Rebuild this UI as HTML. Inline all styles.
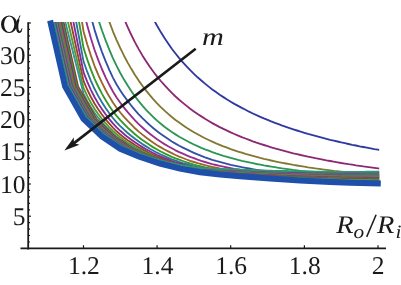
<!DOCTYPE html><html><head><meta charset="utf-8"><style>html,body{margin:0;padding:0;background:#fff}svg{display:block}text{text-rendering:geometricPrecision}text{font-family:"Liberation Serif",serif;fill:#1a1a1a}</style></head><body>
<svg width="401" height="285" viewBox="0 0 401 285" style="will-change:transform">
<rect width="401" height="285" fill="#fff"/>
<defs><clipPath id="c"><rect x="30" y="21.9" width="349.2" height="230"/></clipPath></defs>
<g clip-path="url(#c)" fill="none" stroke-width="1.85" stroke-linejoin="round">
<polyline points="109.3,-136.2 112.9,-114.0 116.6,-94.5 120.3,-77.3 124.0,-61.9 127.7,-48.2 131.4,-35.7 135.0,-24.5 138.7,-14.2 142.4,-4.9 146.1,3.7 149.8,11.7 153.4,19.0 157.1,25.8 160.8,32.1 164.5,38.0 168.2,43.5 171.8,48.7 175.5,53.5 179.2,58.1 182.9,62.3 186.6,66.4 190.2,70.2 193.9,73.8 197.6,77.3 201.3,80.5 205.0,83.6 208.7,86.6 212.3,89.4 216.0,92.1 219.7,94.7 223.4,97.1 227.1,99.5 230.7,101.7 234.4,103.9 238.1,105.9 241.8,107.9 245.5,109.8 249.1,111.7 252.8,113.5 256.5,115.2 260.2,116.8 263.9,118.4 267.6,119.9 271.2,121.4 274.9,122.8 278.6,124.2 282.3,125.6 286.0,126.9 289.6,128.1 293.3,129.3 297.0,130.5 300.7,131.7 304.4,132.8 308.0,133.9 311.7,134.9 315.4,135.9 319.1,136.9 322.8,137.9 326.4,138.8 330.1,139.8 333.8,140.6 337.5,141.5 341.2,142.4 344.9,143.2 348.5,144.0 352.2,144.8 355.9,145.5 359.6,146.3 363.3,147.0 366.9,147.7 370.6,148.4 374.3,149.1 378.0,149.7 381.0,150.3" stroke="#2f3aa0"/>
<polyline points="87.2,-134.0 90.9,-109.9 94.5,-88.7 98.2,-69.9 101.9,-53.1 105.6,-38.0 109.3,-24.4 112.9,-12.1 116.6,-1.0 120.3,9.2 124.0,18.6 127.7,27.2 131.4,35.1 135.0,42.4 138.7,49.1 142.4,55.4 146.1,61.2 149.8,66.7 153.4,71.8 157.1,76.6 160.8,81.0 164.5,85.2 168.2,89.2 171.8,92.9 175.5,96.5 179.2,99.8 182.9,102.9 186.6,105.9 190.2,108.8 193.9,111.4 197.6,114.0 201.3,116.4 205.0,118.8 208.7,121.0 212.3,123.1 216.0,125.1 219.7,127.1 223.4,128.9 227.1,130.7 230.7,132.4 234.4,134.0 238.1,135.6 241.8,137.1 245.5,138.5 249.1,139.9 252.8,141.3 256.5,142.6 260.2,143.8 263.9,145.0 267.6,146.2 271.2,147.3 274.9,148.4 278.6,149.4 282.3,150.4 286.0,151.4 289.6,152.3 293.3,153.3 297.0,154.1 300.7,155.0 304.4,155.8 308.0,156.7 311.7,157.4 315.4,158.2 319.1,158.9 322.8,159.7 326.4,160.4 330.1,161.0 333.8,161.7 337.5,162.3 341.2,163.0 344.9,163.6 348.5,164.2 352.2,164.7 355.9,165.3 359.6,165.8 363.3,166.4 366.9,166.9 370.6,167.4 374.3,167.9 378.0,168.4 381.0,168.8" stroke="#8c2873"/>
<polyline points="76.1,-118.7 79.8,-96.1 83.5,-75.9 87.2,-57.6 90.9,-41.1 94.5,-26.1 98.2,-12.5 101.9,-0.1 105.6,11.3 109.3,21.7 112.9,31.3 116.6,40.1 120.3,48.2 124.0,55.7 127.7,62.6 131.4,69.1 135.0,75.0 138.7,80.6 142.4,85.8 146.1,90.6 149.8,95.2 153.4,99.4 157.1,103.4 160.8,107.1 164.5,110.6 168.2,113.9 171.8,117.0 175.5,119.9 179.2,122.6 182.9,125.2 186.6,127.7 190.2,130.0 193.9,132.2 197.6,134.3 201.3,136.3 205.0,138.2 208.7,140.0 212.3,141.7 216.0,143.3 219.7,144.8 223.4,146.3 227.1,147.7 230.7,149.1 234.4,150.3 238.1,151.6 241.8,152.7 245.5,153.9 249.1,154.9 252.8,155.9 256.5,156.9 260.2,157.9 263.9,158.8 267.6,159.6 271.2,160.5 274.9,161.3 278.6,162.1 282.3,162.8 286.0,163.5 289.6,164.2 293.3,164.9 297.0,165.5 300.7,166.1 304.4,166.7 308.0,167.3 311.7,167.8 315.4,168.4 319.1,168.9 322.8,169.4 326.4,169.8 330.1,170.3 333.8,170.8 337.5,171.2 341.2,171.6 344.9,172.0 348.5,172.4 352.2,172.8 355.9,173.2 359.6,173.5 363.3,173.9 366.9,174.2 370.6,174.5 374.3,174.9 378.0,175.2 381.0,175.4" stroke="#827832"/>
<polyline points="68.8,-124.8 72.5,-99.2 76.1,-76.4 79.8,-56.0 83.5,-37.7 87.2,-21.3 90.9,-6.4 94.5,7.0 98.2,19.2 101.9,30.3 105.6,40.4 109.3,49.6 112.9,58.1 116.6,65.9 120.3,73.0 124.0,79.6 127.7,85.6 131.4,91.2 135.0,96.4 138.7,101.2 142.4,105.6 146.1,109.8 149.8,113.6 153.4,117.2 157.1,120.6 160.8,123.7 164.5,126.7 168.2,129.4 171.8,132.0 175.5,134.4 179.2,136.7 182.9,138.8 186.6,140.8 190.2,142.7 193.9,144.5 197.6,146.2 201.3,147.8 205.0,149.3 208.7,150.7 212.3,152.1 216.0,153.4 219.7,154.6 223.4,155.8 227.1,156.9 230.7,157.9 234.4,158.9 238.1,159.9 241.8,160.8 245.5,161.6 249.1,162.4 252.8,163.2 256.5,164.0 260.2,164.7 263.9,165.4 267.6,166.0 271.2,166.6 274.9,167.2 278.6,167.8 282.3,168.4 286.0,168.9 289.6,169.4 293.3,169.9 297.0,170.3 300.7,170.8 304.4,171.2 308.0,171.6 311.7,172.0 315.4,172.4 319.1,172.8 322.8,173.1 326.4,173.5 330.1,173.8 333.8,174.1 337.5,174.4 341.2,174.7 344.9,175.0 348.5,175.3 352.2,175.5 355.9,175.8 359.6,176.0 363.3,176.3 366.9,176.5 370.6,176.7 374.3,177.0 378.0,177.2 381.0,177.3" stroke="#2d9655"/>
<polyline points="65.1,-149.1 83.5,-14.7 87.2,1.7 90.9,16.4 94.5,29.6 98.2,41.4 101.9,51.8 105.6,61.2 109.3,69.8 112.9,77.6 116.6,84.5 120.3,90.5 124.0,95.9 127.7,101.0 131.4,105.7 135.0,110.2 138.7,114.3 142.4,118.1 146.1,121.7 149.8,125.1 153.4,128.3 157.1,131.2 160.8,134.0 164.5,136.6 168.2,139.1 171.8,141.5 175.5,143.6 179.2,145.7 182.9,147.6 186.6,149.4 190.2,151.2 193.9,152.8 197.6,154.4 201.3,155.9 205.0,157.3 208.7,158.6 212.3,159.8 216.0,160.9 219.7,161.9 223.4,162.9 227.1,163.9 230.7,164.8 234.4,165.6 238.1,166.4 241.8,167.2 245.5,167.9 249.1,168.5 252.8,169.2 256.5,169.8 260.2,170.4 263.9,171.0 267.6,171.5 271.2,172.1 274.9,172.6 278.6,173.0 282.3,173.5 286.0,174.0 289.6,174.4 293.3,174.8 297.0,175.2 300.7,175.6 304.4,175.9 308.0,176.3 311.7,176.7 315.4,177.0 319.1,177.3 322.8,177.6 326.4,177.9 330.1,178.2 333.8,178.5 337.5,178.8 341.2,179.0 344.9,179.3 348.5,179.5 352.2,179.7 355.9,180.0 359.6,180.1 363.3,180.3 366.9,180.5 370.6,180.7 374.3,180.9 378.0,181.0 381.0,181.2" stroke="#3250a5"/>
<polyline points="65.1,-114.2 83.5,10.7 87.2,25.2 90.9,38.2 94.5,49.7 98.2,59.9 101.9,69.0 105.6,77.3 109.3,84.8 112.9,91.5 116.6,97.5 120.3,102.8 124.0,107.6 127.7,112.2 131.4,116.4 135.0,120.4 138.7,124.1 142.4,127.5 146.1,130.7 149.8,133.8 153.4,136.6 157.1,139.3 160.8,141.7 164.5,144.1 168.2,146.3 171.8,148.3 175.5,150.3 179.2,152.1 182.9,153.7 186.6,155.3 190.2,156.8 193.9,158.2 197.6,159.6 201.3,160.9 205.0,162.0 208.7,163.1 212.3,164.1 216.0,165.0 219.7,165.9 223.4,166.7 227.1,167.5 230.7,168.2 234.4,168.9 238.1,169.5 241.8,170.2 245.5,170.7 249.1,171.3 252.8,171.8 256.5,172.4 260.2,172.9 263.9,173.3 267.6,173.8 271.2,174.2 274.9,174.7 278.6,175.1 282.3,175.4 286.0,175.8 289.6,176.2 293.3,176.5 297.0,176.8 300.7,177.2 304.4,177.5 308.0,177.8 311.7,178.1 315.4,178.3 319.1,178.6 322.8,178.9 326.4,179.1 330.1,179.4 333.8,179.6 337.5,179.8 341.2,180.0 344.9,180.2 348.5,180.4 352.2,180.6 355.9,180.8 359.6,180.9 363.3,181.1 366.9,181.2 370.6,181.4 374.3,181.5 378.0,181.7 381.0,181.8" stroke="#992d8e"/>
<polyline points="46.7,-290.0 65.1,-84.5 83.5,31.2 87.2,44.2 90.9,55.6 94.5,65.8 98.2,74.7 101.9,82.7 105.6,90.0 109.3,96.6 112.9,102.5 116.6,107.8 120.3,112.5 124.0,116.8 127.7,120.9 131.4,124.7 135.0,128.3 138.7,131.6 142.4,134.6 146.1,137.5 149.8,140.2 153.4,142.8 157.1,145.2 160.8,147.4 164.5,149.5 168.2,151.4 171.8,153.2 175.5,155.0 179.2,156.6 182.9,158.0 186.6,159.5 190.2,160.8 193.9,162.0 197.6,163.2 201.3,164.2 205.0,165.2 208.7,166.1 212.3,167.0 216.0,167.7 219.7,168.5 223.4,169.1 227.1,169.8 230.7,170.4 234.4,170.9 238.1,171.5 241.8,172.0 245.5,172.5 249.1,173.0 252.8,173.4 256.5,173.9 260.2,174.3 263.9,174.7 267.6,175.1 271.2,175.5 274.9,175.8 278.6,176.2 282.3,176.5 286.0,176.8 289.6,177.1 293.3,177.4 297.0,177.7 300.7,177.9 304.4,178.2 308.0,178.5 311.7,178.7 315.4,179.0 319.1,179.2 322.8,179.4 326.4,179.6 330.1,179.8 333.8,180.0 337.5,180.2 341.2,180.4 344.9,180.6 348.5,180.7 352.2,180.9 355.9,181.0 359.6,181.2 363.3,181.3 366.9,181.4 370.6,181.5 374.3,181.6 378.0,181.8 381.0,181.9" stroke="#99652d"/>
<polyline points="46.7,-256.0 65.1,-59.1 83.5,47.8 87.2,59.4 90.9,69.6 94.5,78.6 98.2,86.5 101.9,93.6 105.6,100.0 109.3,105.9 112.9,111.2 116.6,115.9 120.3,120.1 124.0,124.0 127.7,127.7 131.4,131.0 135.0,134.3 138.7,137.2 142.4,140.0 146.1,142.6 149.8,145.1 153.4,147.4 157.1,149.5 160.8,151.5 164.5,153.4 168.2,155.1 171.8,156.8 175.5,158.3 179.2,159.7 182.9,161.0 186.6,162.3 190.2,163.5 193.9,164.6 197.6,165.6 201.3,166.5 205.0,167.3 208.7,168.1 212.3,168.8 216.0,169.5 219.7,170.1 223.4,170.7 227.1,171.2 230.7,171.7 234.4,172.2 238.1,172.6 241.8,173.1 245.5,173.5 249.1,173.9 252.8,174.3 256.5,174.7 260.2,175.1 263.9,175.4 267.6,175.8 271.2,176.1 274.9,176.4 278.6,176.7 282.3,177.0 286.0,177.3 289.6,177.5 293.3,177.8 297.0,178.0 300.7,178.2 304.4,178.5 308.0,178.7 311.7,178.9 315.4,179.1 319.1,179.3 322.8,179.5 326.4,179.7 330.1,179.9 333.8,180.1 337.5,180.3 341.2,180.4 344.9,180.6 348.5,180.7 352.2,180.8 355.9,181.0 359.6,181.1 363.3,181.2 366.9,181.3 370.6,181.4 374.3,181.5 378.0,181.6 381.0,181.7" stroke="#34992d"/>
<polyline points="46.7,-225.9 65.1,-37.6 83.5,61.3 87.2,71.7 90.9,80.8 94.5,88.8 98.2,95.9 101.9,102.2 105.6,108.0 109.3,113.3 112.9,118.0 116.6,122.3 120.3,126.1 124.0,129.6 127.7,133.0 131.4,135.9 135.0,138.8 138.7,141.5 142.4,144.1 146.1,146.4 149.8,148.7 153.4,150.7 157.1,152.7 160.8,154.5 164.5,156.2 168.2,157.8 171.8,159.3 175.5,160.6 179.2,161.9 182.9,163.1 186.6,164.2 190.2,165.3 193.9,166.3 197.6,167.2 201.3,168.0 205.0,168.7 208.7,169.4 212.3,170.0 216.0,170.6 219.7,171.1 223.4,171.6 227.1,172.0 230.7,172.5 234.4,172.9 238.1,173.3 241.8,173.6 245.5,174.0 249.1,174.4 252.8,174.7 256.5,175.1 260.2,175.4 263.9,175.7 267.6,176.0 271.2,176.3 274.9,176.6 278.6,176.9 282.3,177.1 286.0,177.4 289.6,177.6 293.3,177.8 297.0,178.0 300.7,178.3 304.4,178.5 308.0,178.7 311.7,178.9 315.4,179.1 319.1,179.2 322.8,179.4 326.4,179.6 330.1,179.7 333.8,179.9 337.5,180.1 341.2,180.2 344.9,180.3 348.5,180.5 352.2,180.6 355.9,180.7 359.6,180.8 363.3,180.9 366.9,181.0 370.6,181.0 374.3,181.1 378.0,181.2 381.0,181.3" stroke="#2d7399"/>
<polyline points="46.7,-199.3 65.1,-19.2 83.5,72.1 87.2,81.6 90.9,89.8 94.5,97.0 98.2,103.4 101.9,109.1 105.6,114.3 109.3,119.1 112.9,123.4 116.6,127.3 120.3,130.8 124.0,134.0 127.7,137.1 131.4,139.7 135.0,142.3 138.7,144.8 142.4,147.1 146.1,149.3 149.8,151.3 153.4,153.2 157.1,155.0 160.8,156.6 164.5,158.2 168.2,159.6 171.8,161.0 175.5,162.3 179.2,163.4 182.9,164.5 186.6,165.6 190.2,166.5 193.9,167.4 197.6,168.2 201.3,168.9 205.0,169.6 208.7,170.2 212.3,170.7 216.0,171.2 219.7,171.7 223.4,172.1 227.1,172.5 230.7,172.9 234.4,173.2 238.1,173.5 241.8,173.9 245.5,174.2 249.1,174.6 252.8,174.9 256.5,175.2 260.2,175.5 263.9,175.8 267.6,176.1 271.2,176.3 274.9,176.6 278.6,176.8 282.3,177.0 286.0,177.3 289.6,177.5 293.3,177.7 297.0,177.9 300.7,178.1 304.4,178.3 308.0,178.4 311.7,178.6 315.4,178.8 319.1,179.0 322.8,179.1 326.4,179.3 330.1,179.4 333.8,179.6 337.5,179.7 341.2,179.8 344.9,180.0 348.5,180.1 352.2,180.2 355.9,180.3 359.6,180.4 363.3,180.4 366.9,180.5 370.6,180.6 374.3,180.7 378.0,180.8 381.0,180.8" stroke="#802d99"/>
<polyline points="46.7,-175.7 65.1,-3.5 83.5,80.9 87.2,89.5 90.9,97.0 94.5,103.5 98.2,109.3 101.9,114.5 105.6,119.3 109.3,123.7 112.9,127.7 116.6,131.3 120.3,134.5 124.0,137.4 127.7,140.2 131.4,142.6 135.0,145.0 138.7,147.3 142.4,149.4 146.1,151.4 149.8,153.3 153.4,155.0 157.1,156.7 160.8,158.2 164.5,159.6 168.2,161.0 171.8,162.2 175.5,163.4 179.2,164.5 182.9,165.5 186.6,166.4 190.2,167.3 193.9,168.1 197.6,168.9 201.3,169.5 205.0,170.1 208.7,170.6 212.3,171.1 216.0,171.5 219.7,171.9 223.4,172.3 227.1,172.7 230.7,173.0 234.4,173.3 238.1,173.6 241.8,173.9 245.5,174.2 249.1,174.5 252.8,174.8 256.5,175.1 260.2,175.4 263.9,175.7 267.6,175.9 271.2,176.1 274.9,176.4 278.6,176.6 282.3,176.8 286.0,177.0 289.6,177.2 293.3,177.4 297.0,177.6 300.7,177.8 304.4,177.9 308.0,178.1 311.7,178.3 315.4,178.4 319.1,178.6 322.8,178.7 326.4,178.9 330.1,179.0 333.8,179.2 337.5,179.3 341.2,179.4 344.9,179.5 348.5,179.6 352.2,179.7 355.9,179.8 359.6,179.9 363.3,179.9 366.9,180.0 370.6,180.1 374.3,180.1 378.0,180.2 381.0,180.3" stroke="#99412d"/>
<polyline points="46.7,-154.8 65.1,9.8 83.5,87.9 87.2,95.9 90.9,102.7 94.5,108.7 98.2,114.0 101.9,118.8 105.6,123.2 109.3,127.3 112.9,131.0 116.6,134.3 120.3,137.3 124.0,140.1 127.7,142.7 131.4,144.8 135.0,147.0 138.7,149.1 142.4,151.1 146.1,152.9 149.8,154.7 153.4,156.3 157.1,157.9 160.8,159.3 164.5,160.6 168.2,161.9 171.8,163.0 175.5,164.1 179.2,165.1 182.9,166.1 186.6,167.0 190.2,167.8 193.9,168.6 197.6,169.2 201.3,169.8 205.0,170.3 208.7,170.8 212.3,171.2 216.0,171.6 219.7,172.0 223.4,172.4 227.1,172.7 230.7,173.0 234.4,173.2 238.1,173.5 241.8,173.8 245.5,174.1 249.1,174.4 252.8,174.6 256.5,174.9 260.2,175.2 263.9,175.4 267.6,175.6 271.2,175.9 274.9,176.1 278.6,176.3 282.3,176.5 286.0,176.7 289.6,176.8 293.3,177.0 297.0,177.2 300.7,177.4 304.4,177.5 308.0,177.7 311.7,177.8 315.4,178.0 319.1,178.1 322.8,178.3 326.4,178.4 330.1,178.5 333.8,178.7 337.5,178.8 341.2,178.9 344.9,179.0 348.5,179.1 352.2,179.2 355.9,179.2 359.6,179.3 363.3,179.4 366.9,179.4 370.6,179.5 374.3,179.5 378.0,179.6 381.0,179.7" stroke="#58992d"/>
<polyline points="46.7,-136.4 65.1,21.2 83.5,93.6 87.2,101.0 90.9,107.3 94.5,112.8 98.2,117.7 101.9,122.2 105.6,126.3 109.3,130.1 112.9,133.6 116.6,136.8 120.3,139.6 124.0,142.1 127.7,144.6 131.4,146.4 135.0,148.5 138.7,150.5 142.4,152.3 146.1,154.1 149.8,155.7 153.4,157.3 157.1,158.7 160.8,160.0 164.5,161.3 168.2,162.5 171.8,163.6 175.5,164.6 179.2,165.6 182.9,166.4 186.6,167.3 190.2,168.1 193.9,168.8 197.6,169.4 201.3,170.0 205.0,170.4 208.7,170.9 212.3,171.3 216.0,171.6 219.7,172.0 223.4,172.3 227.1,172.5 230.7,172.8 234.4,173.1 238.1,173.3 241.8,173.6 245.5,173.8 249.1,174.1 252.8,174.3 256.5,174.6 260.2,174.8 263.9,175.1 267.6,175.3 271.2,175.5 274.9,175.7 278.6,175.9 282.3,176.1 286.0,176.3 289.6,176.4 293.3,176.6 297.0,176.7 300.7,176.9 304.4,177.1 308.0,177.2 311.7,177.3 315.4,177.5 319.1,177.6 322.8,177.8 326.4,177.9 330.1,178.0 333.8,178.1 337.5,178.2 341.2,178.3 344.9,178.4 348.5,178.5 352.2,178.6 355.9,178.6 359.6,178.7 363.3,178.8 366.9,178.8 370.6,178.9 374.3,178.9 378.0,179.0 381.0,179.0" stroke="#2d9799"/>
<polyline points="46.7,-51.7 50.4,-35.5 54.1,-19.3 57.7,-3.1 61.4,13.1 63.1,20.5 65.1,29.3 68.8,45.5 72.5,61.6 76.1,77.8 78.1,86.5 79.8,89.5 83.5,96.0 87.2,102.5 90.9,109.0 94.5,115.5 96.5,118.9 98.2,120.6 101.9,124.0 105.6,127.5 109.3,131.0 112.9,134.5 114.9,136.3 116.6,137.5 120.3,140.0 124.0,142.4 127.7,144.9 131.4,147.4 133.3,148.7 135.0,149.4 138.7,150.9 142.4,152.5 146.1,154.0 149.8,155.5 151.7,156.3 153.4,156.9 157.1,158.1 160.8,159.3 164.5,160.5 168.2,161.7 171.8,162.8 173.0,163.2 175.5,163.8 179.2,164.7 182.9,165.6 186.6,166.5 190.2,167.4 193.0,168.0 193.9,168.2 197.6,168.8 201.3,169.4 205.0,170.0 208.7,170.5 212.3,171.0 213.0,171.1 216.0,171.4 219.7,171.7 223.4,172.0 227.1,172.3 230.7,172.5 233.0,172.7 234.4,172.8 238.1,173.0 241.8,173.2 245.5,173.5 249.1,173.7 252.8,173.9 253.0,173.9 256.5,174.2 260.2,174.4 263.9,174.6 267.6,174.8 271.2,175.0 274.9,175.2 278.6,175.4 282.3,175.6 283.0,175.6 286.0,175.7 289.6,175.9 293.3,176.0 297.0,176.2 300.7,176.4 304.4,176.5 308.0,176.6 311.7,176.8 313.0,176.8 315.4,176.9 319.1,177.0 322.8,177.1 326.4,177.3 330.1,177.4 333.8,177.5 337.5,177.6 341.2,177.7 343.0,177.7 344.9,177.8 348.5,177.9 352.2,177.9 355.9,178.0 359.6,178.0 363.0,178.1 363.3,178.1 366.9,178.1 370.6,178.2 374.3,178.2 378.0,178.3 381.0,178.3" stroke="#99352d"/>
<polyline points="46.7,-46.5 50.4,-30.3 54.1,-14.1 57.7,2.1 61.4,18.3 61.9,20.5 65.1,34.5 68.8,50.7 72.5,66.9 76.1,83.0 76.9,86.4 79.8,91.6 83.5,98.1 87.2,104.6 90.9,111.1 94.5,117.6 95.3,118.9 98.2,121.7 101.9,125.1 105.6,128.6 109.3,132.1 112.9,135.6 113.7,136.3 116.6,138.2 120.3,140.7 124.0,143.2 127.7,145.7 131.4,148.1 132.1,148.6 135.0,149.8 138.7,151.4 142.4,152.9 146.1,154.4 149.8,155.9 150.5,156.3 153.4,157.2 157.1,158.4 160.8,159.6 164.5,160.8 168.2,161.9 171.8,163.1 171.8,163.1 175.5,164.0 179.2,164.9 182.9,165.8 186.6,166.6 190.2,167.5 191.8,167.8 193.9,168.2 197.6,168.8 201.3,169.4 205.0,169.9 208.7,170.4 211.8,170.8 212.3,170.8 216.0,171.1 219.7,171.5 223.4,171.7 227.1,172.0 230.7,172.2 231.8,172.3 234.4,172.4 238.1,172.7 241.8,172.9 245.5,173.1 249.1,173.3 251.8,173.5 252.8,173.5 256.5,173.7 260.2,174.0 263.9,174.2 267.6,174.4 271.2,174.6 274.9,174.7 278.6,174.9 281.8,175.1 282.3,175.1 286.0,175.2 289.6,175.4 293.3,175.5 297.0,175.7 300.7,175.8 304.4,175.9 308.0,176.1 311.7,176.2 311.8,176.2 315.4,176.3 319.1,176.4 322.8,176.5 326.4,176.7 330.1,176.8 333.8,176.9 337.5,177.0 341.2,177.0 341.8,177.1 344.9,177.1 348.5,177.2 352.2,177.3 355.9,177.3 359.6,177.4 361.8,177.4 363.3,177.4 366.9,177.4 370.6,177.5 374.3,177.5 378.0,177.6 381.0,177.6" stroke="#34992d"/>
<polyline points="46.7,-41.3 50.4,-25.1 54.1,-8.9 57.7,7.3 60.7,20.5 61.4,23.5 65.1,39.7 68.8,55.9 72.5,72.1 75.7,86.4 76.1,87.2 79.8,93.7 83.5,100.2 87.2,106.7 90.9,113.1 94.1,118.9 94.5,119.3 98.2,122.8 101.9,126.2 105.6,129.7 109.3,133.2 112.5,136.2 112.9,136.5 116.6,139.0 120.3,141.5 124.0,143.9 127.7,146.4 130.9,148.5 131.4,148.7 135.0,150.3 138.7,151.8 142.4,153.3 146.1,154.8 149.3,156.2 149.8,156.3 153.4,157.5 157.1,158.7 160.8,159.9 164.5,161.0 168.2,162.2 170.6,162.9 171.8,163.2 175.5,164.1 179.2,165.0 182.9,165.9 186.6,166.7 190.2,167.5 190.6,167.6 193.9,168.2 197.6,168.8 201.3,169.3 205.0,169.8 208.7,170.2 210.6,170.4 212.3,170.6 216.0,170.9 219.7,171.2 223.4,171.4 227.1,171.7 230.6,171.9 230.7,171.9 234.4,172.1 238.1,172.3 241.8,172.5 245.5,172.7 249.1,172.9 250.6,173.0 252.8,173.1 256.5,173.3 260.2,173.5 263.9,173.7 267.6,173.9 271.2,174.1 274.9,174.3 278.6,174.4 280.6,174.5 282.3,174.6 286.0,174.7 289.6,174.8 293.3,175.0 297.0,175.1 300.7,175.3 304.4,175.4 308.0,175.5 310.6,175.6 311.7,175.6 315.4,175.7 319.1,175.8 322.8,175.9 326.4,176.0 330.1,176.1 333.8,176.2 337.5,176.3 340.6,176.4 341.2,176.4 344.9,176.4 348.5,176.5 352.2,176.6 355.9,176.6 359.6,176.6 360.6,176.6 363.3,176.7 366.9,176.7 370.6,176.7 374.3,176.8 378.0,176.8 381.0,176.8" stroke="#7a2d99"/>
<polyline points="46.7,-36.1 50.4,-19.9 54.1,-3.7 57.7,12.5 59.5,20.5 61.4,28.7 65.1,44.9 68.8,61.1 72.5,77.3 74.5,86.4 76.1,89.2 79.8,95.7 83.5,102.2 87.2,108.7 90.9,115.2 92.9,118.8 94.5,120.3 98.2,123.8 101.9,127.3 105.6,130.8 109.3,134.2 111.3,136.2 112.9,137.3 116.6,139.7 120.3,142.2 124.0,144.7 127.7,147.1 129.7,148.4 131.4,149.1 135.0,150.6 138.7,152.2 142.4,153.7 146.1,155.2 148.1,156.0 149.8,156.6 153.4,157.8 157.1,159.0 160.8,160.1 164.5,161.3 168.2,162.4 169.4,162.8 171.8,163.3 175.5,164.2 179.2,165.1 182.9,165.9 186.6,166.7 189.4,167.3 190.2,167.5 193.9,168.1 197.6,168.7 201.3,169.2 205.0,169.6 208.7,170.0 209.4,170.1 212.3,170.3 216.0,170.6 219.7,170.9 223.4,171.1 227.1,171.3 229.4,171.4 230.7,171.5 234.4,171.7 238.1,171.9 241.8,172.0 245.5,172.2 249.1,172.4 249.4,172.5 252.8,172.6 256.5,172.8 260.2,173.0 263.9,173.2 267.6,173.4 271.2,173.6 274.9,173.7 278.6,173.9 279.4,173.9 282.3,174.0 286.0,174.1 289.6,174.3 293.3,174.4 297.0,174.5 300.7,174.7 304.4,174.8 308.0,174.9 309.4,174.9 311.7,175.0 315.4,175.1 319.1,175.2 322.8,175.3 326.4,175.4 330.1,175.5 333.8,175.5 337.5,175.6 339.4,175.6 341.2,175.7 344.9,175.7 348.5,175.8 352.2,175.8 355.9,175.9 359.4,175.9 359.6,175.9 363.3,175.9 366.9,175.9 370.6,176.0 374.3,176.0 378.0,176.0 381.0,176.0" stroke="#99652d"/>
<polyline points="46.7,-30.9 50.4,-14.7 54.1,1.5 57.7,17.7 58.4,20.4 61.4,33.9 65.1,50.1 68.8,66.3 72.5,82.4 73.3,86.4 76.1,91.3 79.8,97.8 83.5,104.3 87.2,110.8 90.9,117.2 91.8,118.7 94.5,121.4 98.2,124.9 101.9,128.4 105.6,131.8 109.3,135.2 110.2,136.1 112.9,138.0 116.6,140.4 120.3,142.9 124.0,145.3 127.7,147.7 128.6,148.3 131.4,149.5 135.0,151.0 138.7,152.5 142.4,154.0 146.1,155.5 146.9,155.9 149.8,156.8 153.4,158.0 157.1,159.2 160.8,160.3 164.5,161.4 168.2,162.5 168.2,162.5 171.8,163.4 175.5,164.3 179.2,165.1 182.9,165.9 186.6,166.7 188.2,167.0 190.2,167.4 193.9,168.0 197.6,168.5 201.3,169.0 205.0,169.4 208.2,169.7 208.7,169.7 212.3,170.0 216.0,170.3 219.7,170.6 223.4,170.8 227.1,170.9 228.2,171.0 230.7,171.1 234.4,171.3 238.1,171.4 241.8,171.6 245.5,171.8 248.2,171.9 249.1,172.0 252.8,172.2 256.5,172.3 260.2,172.5 263.9,172.7 267.6,172.9 271.2,173.1 274.9,173.2 278.2,173.3 278.6,173.3 282.3,173.4 286.0,173.6 289.6,173.7 293.3,173.8 297.0,173.9 300.7,174.0 304.4,174.1 308.0,174.2 308.2,174.2 311.7,174.3 315.4,174.4 319.1,174.5 322.8,174.6 326.4,174.7 330.1,174.8 333.8,174.8 337.5,174.9 338.2,174.9 341.2,175.0 344.9,175.0 348.5,175.1 352.2,175.1 355.9,175.1 358.2,175.1 359.6,175.1 363.3,175.1 366.9,175.2 370.6,175.2 374.3,175.2 378.0,175.2 381.0,175.2" stroke="#2d9955"/>
<polyline points="46.7,-25.7 50.4,-9.5 54.1,6.7 57.2,20.4 57.7,22.9 61.4,39.1 65.1,55.3 68.8,71.5 72.2,86.3 72.5,86.8 76.1,93.3 79.8,99.8 83.5,106.3 87.2,112.8 90.6,118.6 90.9,118.9 94.5,122.4 98.2,125.9 101.9,129.4 105.6,132.8 109.0,135.9 109.3,136.1 112.9,138.6 116.6,141.1 120.3,143.6 124.0,146.0 127.4,148.1 127.7,148.3 131.4,149.8 135.0,151.3 138.7,152.9 142.4,154.3 145.8,155.7 146.1,155.8 149.8,157.0 153.4,158.2 157.1,159.4 160.8,160.5 164.5,161.5 167.1,162.3 168.2,162.5 171.8,163.4 175.5,164.3 179.2,165.1 182.9,165.9 186.6,166.6 187.1,166.7 190.2,167.2 193.9,167.8 197.6,168.3 201.3,168.8 205.0,169.1 207.1,169.3 208.7,169.4 212.3,169.7 216.0,169.9 219.7,170.2 223.4,170.4 227.1,170.5 227.1,170.5 230.7,170.7 234.4,170.8 238.1,171.0 241.8,171.1 245.5,171.3 247.1,171.4 249.1,171.5 252.8,171.7 256.5,171.8 260.2,172.0 263.9,172.2 267.6,172.3 271.2,172.5 274.9,172.6 277.1,172.7 278.6,172.7 282.3,172.8 286.0,173.0 289.6,173.1 293.3,173.2 297.0,173.3 300.7,173.4 304.4,173.5 307.1,173.6 308.0,173.6 311.7,173.7 315.4,173.7 319.1,173.8 322.8,173.9 326.4,174.0 330.1,174.1 333.8,174.1 337.1,174.2 337.5,174.2 341.2,174.2 344.9,174.2 348.5,174.3 352.2,174.3 355.9,174.3 357.1,174.3 359.6,174.3 363.3,174.3 366.9,174.3 370.6,174.3 374.3,174.4 378.0,174.4 381.0,174.4" stroke="#992d8e"/>
<polyline points="46.7,-20.5 50.4,-4.3 54.1,11.9 56.0,20.4 57.7,28.1 61.4,44.3 65.1,60.5 68.8,76.6 71.0,86.2 72.5,88.8 76.1,95.3 79.8,101.8 83.5,108.3 87.2,114.7 89.4,118.5 90.9,119.9 94.5,123.4 98.2,126.9 101.9,130.4 105.6,133.8 107.8,135.8 109.3,136.8 112.9,139.3 116.6,141.7 120.3,144.2 124.0,146.6 126.2,147.9 127.7,148.5 131.4,150.0 135.0,151.6 138.7,153.1 142.4,154.5 144.6,155.4 146.1,155.9 149.8,157.1 153.4,158.3 157.1,159.5 160.8,160.6 164.5,161.6 165.9,162.0 168.2,162.5 171.8,163.4 175.5,164.2 179.2,165.1 182.9,165.8 185.9,166.3 186.6,166.5 190.2,167.0 193.9,167.6 197.6,168.1 201.3,168.6 205.0,168.9 205.9,168.9 208.7,169.1 212.3,169.3 216.0,169.6 219.7,169.8 223.4,170.0 225.9,170.1 227.1,170.1 230.7,170.2 234.4,170.4 238.1,170.5 241.8,170.6 245.5,170.8 245.9,170.8 249.1,171.0 252.8,171.1 256.5,171.3 260.2,171.5 263.9,171.6 267.6,171.8 271.2,171.9 274.9,172.0 275.9,172.1 278.6,172.1 282.3,172.2 286.0,172.3 289.6,172.4 293.3,172.5 297.0,172.6 300.7,172.7 304.4,172.8 305.9,172.8 308.0,172.9 311.7,173.0 315.4,173.0 319.1,173.1 322.8,173.2 326.4,173.3 330.1,173.3 333.8,173.4 335.9,173.4 337.5,173.4 341.2,173.4 344.9,173.5 348.5,173.5 352.2,173.5 355.9,173.5 355.9,173.5 359.6,173.5 363.3,173.5 366.9,173.5 370.6,173.5 374.3,173.5 378.0,173.5 381.0,173.5" stroke="#3a9950"/>
<polyline points="46.7,-15.3 50.4,0.9 54.1,17.1 54.8,20.3 57.7,33.3 61.4,49.5 65.1,65.7 68.8,81.7 69.8,86.1 72.5,90.8 76.1,97.3 79.8,103.8 83.5,110.3 87.2,116.6 88.2,118.3 90.9,120.8 94.5,124.3 98.2,127.8 101.9,131.3 105.6,134.6 106.6,135.5 109.3,137.3 112.9,139.8 116.6,142.3 120.3,144.8 124.0,147.0 125.0,147.6 127.7,148.7 131.4,150.2 135.0,151.8 138.7,153.3 142.4,154.7 143.4,155.0 146.1,155.9 149.8,157.1 153.4,158.3 157.1,159.5 160.8,160.6 164.5,161.6 164.7,161.6 168.2,162.4 171.8,163.3 175.5,164.1 179.2,164.9 182.9,165.6 184.7,165.9 186.6,166.2 190.2,166.8 193.9,167.4 197.6,167.9 201.3,168.3 204.7,168.5 205.0,168.5 208.7,168.8 212.3,169.0 216.0,169.2 219.7,169.4 223.4,169.6 224.7,169.6 227.1,169.7 230.7,169.8 234.4,169.9 238.1,170.0 241.8,170.1 244.7,170.2 245.5,170.3 249.1,170.4 252.8,170.6 256.5,170.7 260.2,170.9 263.9,171.0 267.6,171.2 271.2,171.3 274.7,171.4 274.9,171.4 278.6,171.5 282.3,171.6 286.0,171.7 289.6,171.8 293.3,171.9 297.0,172.0 300.7,172.1 304.4,172.1 304.7,172.1 308.0,172.2 311.7,172.2 315.4,172.3 319.1,172.4 322.8,172.4 326.4,172.5 330.1,172.6 333.8,172.6 334.7,172.6 337.5,172.6 341.2,172.6 344.9,172.7 348.5,172.7 352.2,172.7 354.7,172.7 355.9,172.7 359.6,172.7 363.3,172.6 366.9,172.6 370.6,172.6 374.3,172.6 378.0,172.6 381.0,172.6" stroke="#802d99"/>
<polyline points="46.7,-10.2 50.4,6.0 53.6,20.2 54.1,22.2 57.7,38.4 61.4,54.6 65.1,70.8 68.6,85.9 68.8,86.2 72.5,92.7 76.1,99.2 79.8,105.7 83.5,112.2 87.0,117.9 87.2,118.1 90.9,121.6 94.5,125.1 98.2,128.6 101.9,132.1 105.4,135.1 105.6,135.2 109.3,137.7 112.9,140.2 116.6,142.7 120.3,145.2 123.8,147.2 124.0,147.3 127.7,148.8 131.4,150.3 135.0,151.8 138.7,153.4 142.2,154.6 142.4,154.7 146.1,155.9 149.8,157.1 153.4,158.3 157.1,159.5 160.8,160.6 163.5,161.2 164.5,161.5 168.2,162.3 171.8,163.1 175.5,163.9 179.2,164.8 182.9,165.4 183.5,165.5 186.6,166.0 190.2,166.6 193.9,167.1 197.6,167.6 201.3,168.0 203.5,168.1 205.0,168.2 208.7,168.4 212.3,168.6 216.0,168.8 219.7,169.0 223.4,169.1 223.5,169.1 227.1,169.2 230.7,169.3 234.4,169.4 238.1,169.5 241.8,169.6 243.5,169.7 245.5,169.7 249.1,169.9 252.8,170.0 256.5,170.2 260.2,170.3 263.9,170.4 267.6,170.6 271.2,170.7 273.5,170.8 274.9,170.8 278.6,170.9 282.3,171.0 286.0,171.0 289.6,171.1 293.3,171.2 297.0,171.3 300.7,171.4 303.5,171.4 304.4,171.4 308.0,171.5 311.7,171.5 315.4,171.6 319.1,171.6 322.8,171.7 326.4,171.7 330.1,171.8 333.5,171.8 333.8,171.8 337.5,171.8 341.2,171.8 344.9,171.8 348.5,171.8 352.2,171.8 353.5,171.8 355.9,171.8 359.6,171.8 363.3,171.8 366.9,171.7 370.6,171.7 374.3,171.7 378.0,171.7 381.0,171.6" stroke="#2d9970"/>
</g>
<polyline points="50.1,20.5 65.1,86.5 83.5,119.0 101.9,136.4 120.3,148.8 138.7,156.5 160.0,163.5 180.0,168.6 200.0,172.3 220.0,174.6 240.0,176.3 270.0,178.6 300.0,180.4 330.0,181.9 350.0,182.7 380.8,183.6" fill="none" stroke="#1e50aa" stroke-width="6" stroke-linejoin="miter"/>
<g stroke="#1a1a1a" stroke-width="1.8" fill="none">
<line x1="28.2" y1="22.2" x2="28.2" y2="249.5"/>
<line x1="20.5" y1="248.4" x2="386" y2="248.4"/>
</g>
<g stroke="#1a1a1a" stroke-width="1.2" fill="none">
<line x1="28.2" y1="242.0" x2="30.0" y2="242.0"/>
<line x1="28.2" y1="235.5" x2="30.0" y2="235.5"/>
<line x1="28.2" y1="229.1" x2="30.0" y2="229.1"/>
<line x1="28.2" y1="222.6" x2="30.0" y2="222.6"/>
<line x1="28.2" y1="216.2" x2="30.9" y2="216.2"/>
<line x1="28.2" y1="209.8" x2="30.0" y2="209.8"/>
<line x1="28.2" y1="203.3" x2="30.0" y2="203.3"/>
<line x1="28.2" y1="196.9" x2="30.0" y2="196.9"/>
<line x1="28.2" y1="190.4" x2="30.0" y2="190.4"/>
<line x1="28.2" y1="184.0" x2="30.9" y2="184.0"/>
<line x1="28.2" y1="177.6" x2="30.0" y2="177.6"/>
<line x1="28.2" y1="171.1" x2="30.0" y2="171.1"/>
<line x1="28.2" y1="164.7" x2="30.0" y2="164.7"/>
<line x1="28.2" y1="158.2" x2="30.0" y2="158.2"/>
<line x1="28.2" y1="151.8" x2="30.9" y2="151.8"/>
<line x1="28.2" y1="145.4" x2="30.0" y2="145.4"/>
<line x1="28.2" y1="138.9" x2="30.0" y2="138.9"/>
<line x1="28.2" y1="132.5" x2="30.0" y2="132.5"/>
<line x1="28.2" y1="126.0" x2="30.0" y2="126.0"/>
<line x1="28.2" y1="119.6" x2="30.9" y2="119.6"/>
<line x1="28.2" y1="113.2" x2="30.0" y2="113.2"/>
<line x1="28.2" y1="106.7" x2="30.0" y2="106.7"/>
<line x1="28.2" y1="100.3" x2="30.0" y2="100.3"/>
<line x1="28.2" y1="93.8" x2="30.0" y2="93.8"/>
<line x1="28.2" y1="87.4" x2="30.9" y2="87.4"/>
<line x1="28.2" y1="81.0" x2="30.0" y2="81.0"/>
<line x1="28.2" y1="74.5" x2="30.0" y2="74.5"/>
<line x1="28.2" y1="68.1" x2="30.0" y2="68.1"/>
<line x1="28.2" y1="61.6" x2="30.0" y2="61.6"/>
<line x1="28.2" y1="55.2" x2="30.9" y2="55.2"/>
<line x1="28.2" y1="48.8" x2="30.0" y2="48.8"/>
<line x1="28.2" y1="42.3" x2="30.0" y2="42.3"/>
<line x1="28.2" y1="35.9" x2="30.0" y2="35.9"/>
<line x1="28.2" y1="29.4" x2="30.0" y2="29.4"/>
<line x1="28.2" y1="23.0" x2="30.9" y2="23.0"/>
<line x1="83.5" y1="248.4" x2="83.5" y2="245.2"/>
<line x1="157.1" y1="248.4" x2="157.1" y2="245.2"/>
<line x1="230.7" y1="248.4" x2="230.7" y2="245.2"/>
<line x1="304.4" y1="248.4" x2="304.4" y2="245.2"/>
<line x1="378.0" y1="248.4" x2="378.0" y2="245.2"/>
</g>
<text x="25.4" y="224.7" font-size="25.5" text-anchor="end">5</text>
<text x="25.4" y="192.5" font-size="25.5" text-anchor="end">10</text>
<text x="25.4" y="160.3" font-size="25.5" text-anchor="end">15</text>
<text x="25.4" y="128.1" font-size="25.5" text-anchor="end">20</text>
<text x="25.4" y="95.9" font-size="25.5" text-anchor="end">25</text>
<text x="25.4" y="63.7" font-size="25.5" text-anchor="end">30</text>
<text x="83.9" y="274.3" font-size="25.5" text-anchor="middle">1.2</text>
<text x="157.5" y="274.3" font-size="25.5" text-anchor="middle">1.4</text>
<text x="231.1" y="274.3" font-size="25.5" text-anchor="middle">1.6</text>
<text x="304.8" y="274.3" font-size="25.5" text-anchor="middle">1.8</text>
<text x="378.0" y="274.3" font-size="25.5" text-anchor="middle">2</text>
<g fill="#1a1a1a" stroke="none"><path fill-rule="evenodd" d="M1.0,24.3 A8.1,8.75 0 1,0 17.2,24.3 A8.1,8.75 0 1,0 1.0,24.3 Z M4.1,24.3 A5.1,7.75 0 1,1 14.3,24.3 A5.1,7.75 0 1,1 4.1,24.3 Z"/></g>
<g fill="none" stroke="#1a1a1a" stroke-linecap="round" stroke-linejoin="round"><path d="M19.9,15.9 C18.6,18.6 17.4,21.6 17.2,24.6 C17.0,27.8 17.4,30.6 18.6,32.0 C19.8,33.2 21.3,31.6 21.9,28.8" stroke-width="1.0"/><path d="M18.3,20.2 C17.4,22.6 17.0,25.4 17.2,27.8 C17.3,29.4 17.7,30.8 18.4,31.6" stroke-width="2.3"/><path d="M18.6,31.8 C19.4,32.6 20.4,32.2 21.0,31.0" stroke-width="1.5"/></g>
<text transform="translate(201.9,45.1) scale(1.2,1)" font-size="25.2" font-style="italic">m</text>
<g font-style="italic">
<text transform="translate(336.3,232.8) scale(1.12,1)" font-size="25.3">R</text>
<text transform="translate(353.6,238.4) scale(1.12,1)" font-size="19">o</text>
<line x1="366.7" y1="236.9" x2="376.1" y2="214.7" stroke="#1a1a1a" stroke-width="1.5"/>
<text transform="translate(377.0,232.8) scale(1.12,1)" font-size="25.3">R</text>
<text transform="translate(395.4,238.4) scale(1.12,1)" font-size="19">i</text>
</g>
<line x1="195.7" y1="48.8" x2="73.1" y2="143.9" stroke="#1a1a1a" stroke-width="2.6"/>
<polygon points="64.4,150.6 73.8,137.5 73.9,143.2 79.5,144.7" fill="#1a1a1a"/>
</svg></body></html>
